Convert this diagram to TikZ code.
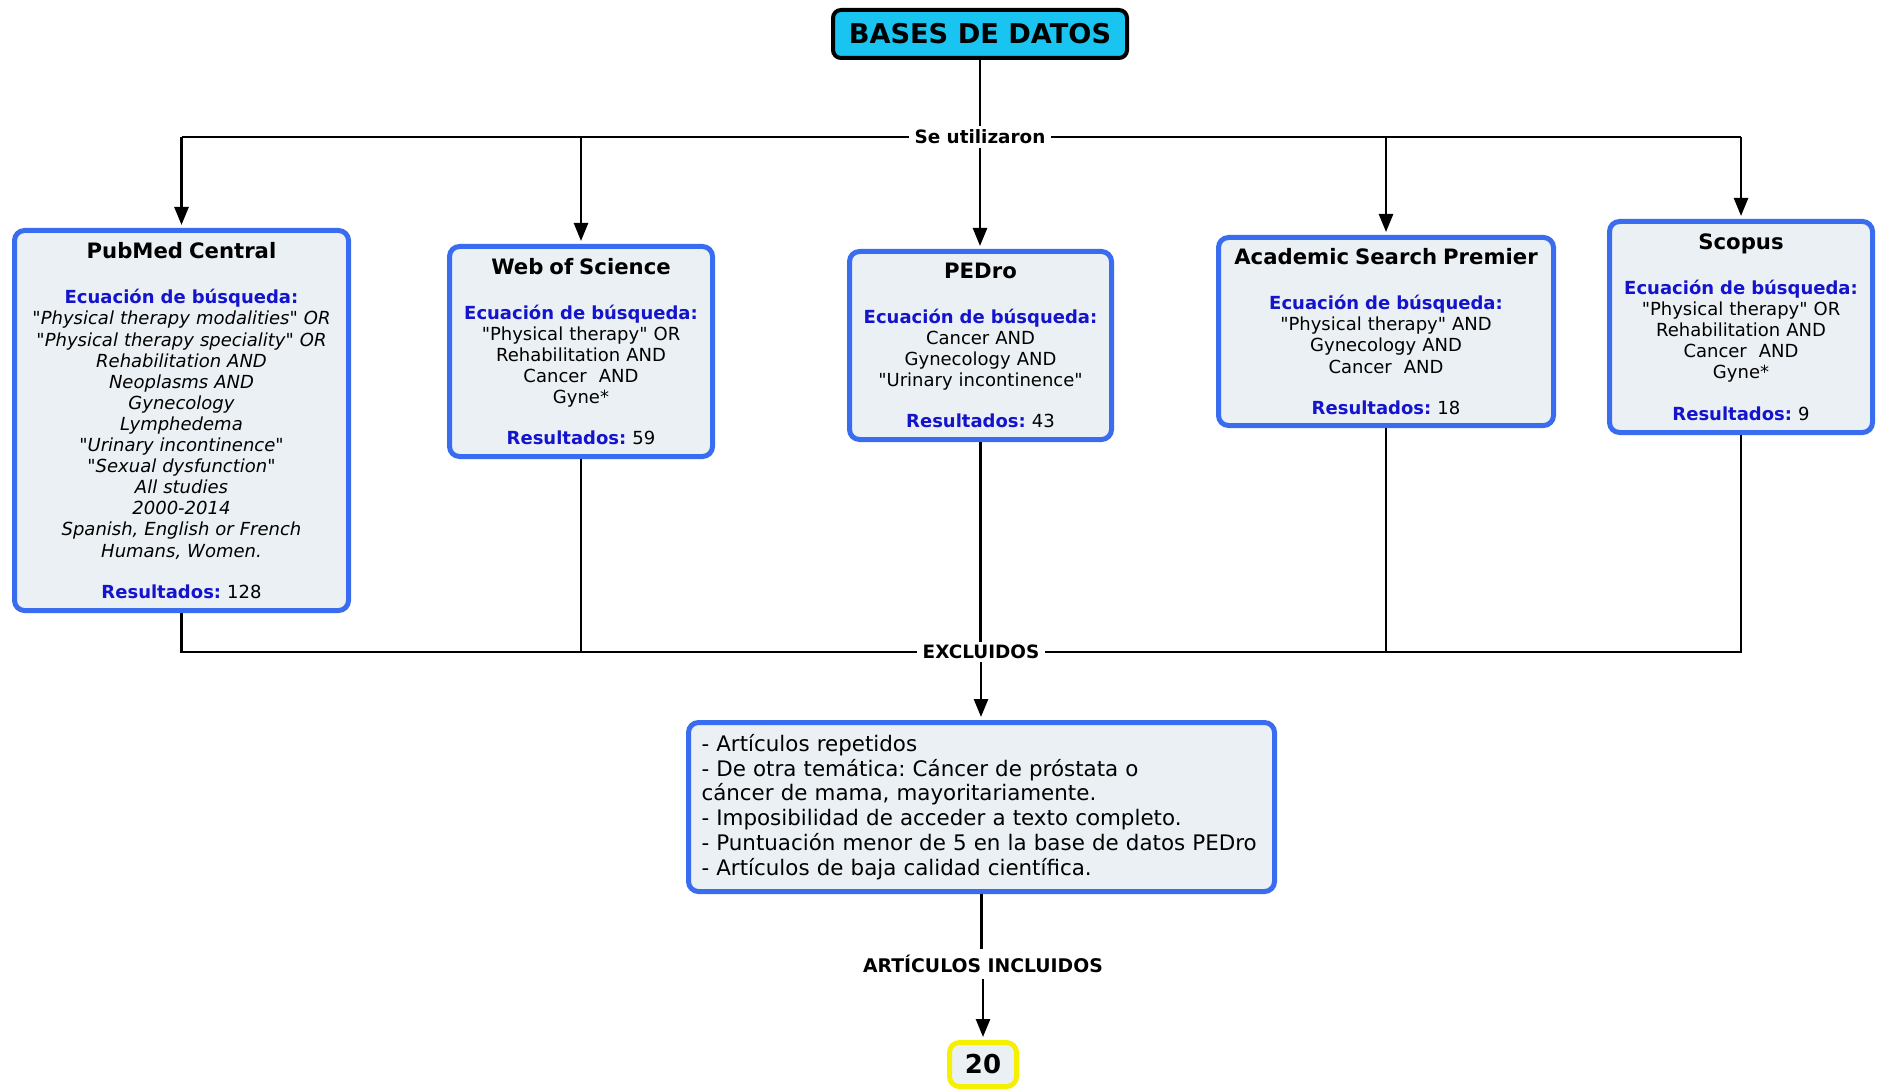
\documentclass[tikz,border=0pt]{standalone}
\usepackage{fontspec}
\setmainfont{DejaVu Sans}[Ligatures=TeXOff]
\usetikzlibrary{arrows.meta}
\definecolor{boxfill}{RGB}{234,240,243}
\definecolor{boxline}{RGB}{58,108,240}
\definecolor{headblue}{RGB}{20,20,205}
\definecolor{cyanfill}{RGB}{25,196,240}
\definecolor{yel}{RGB}{245,240,0}
\newcommand\ttlx[1]{{\fontsize{10.6}{12}\selectfont\bfseries #1}}
\newcommand\hdx[1]{{\bfseries\color{headblue}#1}}
\tikzset{
  dbbox/.style={draw=boxline, line width=2.5pt, fill=boxfill, rounded corners=5pt,
    inner sep=0pt, align=center, font=\fontsize{9}{10.55}\selectfont\frenchspacing},
  lbl/.style={font=\bfseries\fontsize{9.2}{11}\selectfont, inner xsep=2.5pt, inner ysep=1.5pt},
  conn/.style={line width=1.3pt, black},
  arr/.style={conn, -{Triangle[width=7pt,length=9pt]}, shorten >=1.5pt}
}
\begin{document}
\begin{tikzpicture}[x=0.5pt,y=-0.5pt]
\useasboundingbox (0,0) rectangle (1878,1091);

\node[draw=black, line width=2pt, fill=cyanfill, rounded corners=4pt,
  minimum width=147pt, minimum height=24pt, inner sep=0pt,
  font=\bfseries\fontsize{13.6}{15}\selectfont] (bases) at (980,34) {BASES DE DATOS};

\node[lbl] (seu) at (980,137) {Se utilizaron};

\node[dbbox, minimum width=167pt, minimum height=190pt, text width=160pt] (pub) at (181.5,420.5)
{\ttlx{PubMed Central}\\[12pt]
\hdx{Ecuación de búsqueda:}\\
{\itshape "Physical therapy modalities" OR\\
"Physical therapy speciality" OR\\
Rehabilitation AND\\
Neoplasms AND\\
Gynecology\\
Lymphedema\\
"Urinary incontinence"\\
"Sexual dysfunction"\\
All studies\\
2000-2014\\
Spanish, English or French\\
Humans, Women.}\\[10pt]
\hdx{Resultados:} 128};

\node[dbbox, minimum width=131.5pt, minimum height=105pt, text width=126pt] (wos) at (581,351.5)
{\ttlx{Web of Science}\\[12pt]
\hdx{Ecuación de búsqueda:}\\
"Physical therapy" OR\\
Rehabilitation AND\\
Cancer\ \ AND\\
Gyne*\\[10pt]
\hdx{Resultados:} 59};

\node[dbbox, minimum width=131pt, minimum height=94pt, text width=126pt] (ped) at (980.5,345.5)
{\ttlx{PEDro}\\[12pt]
\hdx{Ecuación de búsqueda:}\\
Cancer AND\\
Gynecology AND\\
"Urinary incontinence"\\[10pt]
\hdx{Resultados:} 43};

\node[dbbox, minimum width=167.5pt, minimum height=94pt, text width=160pt] (asp) at (1386,331.5)
{\ttlx{Academic Search Premier}\\[12pt]
\hdx{Ecuación de búsqueda:}\\
"Physical therapy" AND\\
Gynecology AND\\
Cancer\ \ AND\\[10pt]
\hdx{Resultados:} 18};

\node[dbbox, minimum width=131.5pt, minimum height=105.5pt, text width=126pt] (sco) at (1741,327)
{\ttlx{Scopus}\\[12pt]
\hdx{Ecuación de búsqueda:}\\
"Physical therapy" OR\\
Rehabilitation AND\\
Cancer\ \ AND\\
Gyne*\\[10pt]
\hdx{Resultados:} 9};

\node[lbl] (exc) at (981,652) {EXCLUIDOS};

\node[dbbox, minimum width=293pt, minimum height=84.5pt, text width=280pt, align=left,
  font=\fontsize{10.7}{12.35}\selectfont\frenchspacing] (excl) at (981.5,807)
{- Artículos repetidos\\
- De otra temática: Cáncer de próstata o\\
cáncer de mama, mayoritariamente.\\
- Imposibilidad de acceder a texto completo.\\
- Puntuación menor de 5 en la base de datos PEDro\\
- Artículos de baja calidad científica.};

\node[lbl, inner ysep=3pt, font=\bfseries\fontsize{9.4}{11}\selectfont] (inc) at (983,964) {ARTÍCULOS INCLUIDOS};

\node[draw=yel, line width=2.5pt, fill=boxfill, rounded corners=5pt,
  minimum width=33.5pt, minimum height=22pt, inner sep=0pt,
  font=\bfseries\fontsize{13}{15}\selectfont] (twenty) at (983,1064.5) {20};

% top connectors
\draw[conn] (bases.south) -- (seu.north);
\draw[conn] (pub.north |- seu.west) -- (seu.west);
\draw[conn] (seu.east) -- (sco.north |- seu.east);
\draw[arr] (pub.north |- seu.west) -- (pub.north);
\draw[arr] (wos.north |- seu.west) -- (wos.north);
\draw[arr] (seu.south) -- (seu.south |- ped.north);
\draw[arr] (asp.north |- seu.east) -- (asp.north);
\draw[arr] (sco.north |- seu.east) -- (sco.north);

% bottom connectors
\draw[conn] (pub.south) |- (exc.west);
\draw[conn] (wos.south) -- (wos.south |- exc.west);
\draw[conn] (ped.south) -- (ped.south |- exc.north);
\draw[conn] (sco.south) |- (exc.east);
\draw[conn] (asp.south) -- (asp.south |- exc.east);
\draw[arr] (exc.south) -- (exc.south |- excl.north);
\draw[conn] (excl.south) -- (excl.south |- inc.north);
\draw[arr] (inc.south) -- (inc.south |- twenty.north);
\end{tikzpicture}
\end{document}
